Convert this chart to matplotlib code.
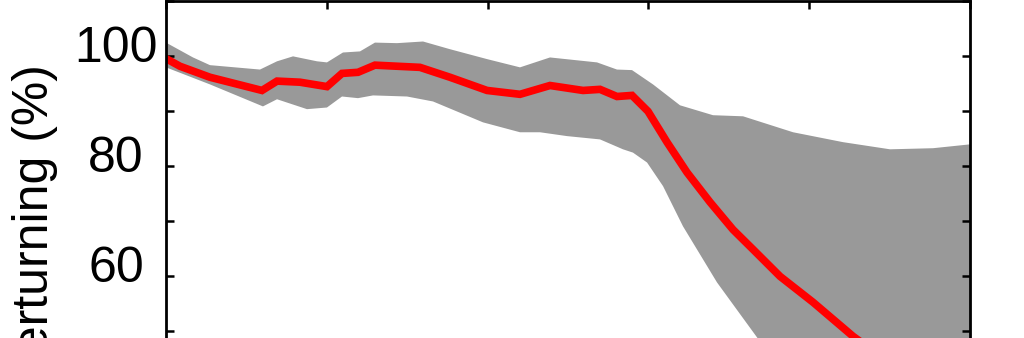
import numpy as np
import matplotlib.pyplot as plt
from matplotlib.transforms import ScaledTranslation

plt.rcParams['font.family'] = ['Liberation Sans', 'DejaVu Sans']

# mean curve (x in % of the record, y in % overturning)
mean_x = [0, 1.74, 5.47, 11.94, 13.81, 16.67, 20.02, 21.89, 23.88, 25.99, 31.59,
          35.32, 39.93, 44.03, 47.76, 51.87, 53.98, 56.09, 57.96, 59.95, 62.31,
          64.80, 67.66, 70.52, 73.01, 76.37, 80.47, 85.45, 90.05, 95.02, 100]
mean_y = [99.6, 98.2, 96.2, 93.8, 95.5, 95.3, 94.5, 96.9, 97.1, 98.4, 98.0,
          96.2, 93.8, 93.1, 94.7, 93.8, 94.0, 92.7, 92.9, 90.0, 84.4,
          78.9, 73.5, 68.5, 64.9, 60.0, 55.3, 49.1, 44.2, 39.1, 34.4]

# upper edge of the spread
upper_x = [0, 3.36, 5.47, 11.69, 13.81, 15.80, 18.78, 20.02, 22.01, 24.13, 25.99,
           28.73, 31.97, 35.32, 39.93, 44.03, 47.76, 53.61, 56.09, 57.96, 60.57,
           63.93, 68.03, 71.77, 77.99, 84.20, 90.05, 95.40, 100]
upper_y = [102.5, 99.8, 98.4, 97.6, 99.1, 100.0, 99.1, 98.9, 100.7, 100.9, 102.5,
           102.4, 102.7, 101.3, 99.5, 98.0, 99.8, 98.9, 97.6, 97.5, 94.9,
           91.1, 89.3, 89.1, 86.2, 84.4, 83.1, 83.3, 84.0]

# lower edge of the spread
lower_x = [0, 5.47, 12.06, 13.81, 17.54, 20.02, 21.89, 23.88, 25.75, 29.98, 33.21,
           39.43, 44.03, 46.52, 49.88, 53.98, 56.84, 58.08, 59.83, 61.82, 64.30,
           68.53, 73.51, 78.86, 85.07, 92.54, 100]
lower_y = [98.0, 94.9, 90.9, 92.2, 90.4, 90.7, 92.7, 92.4, 92.9, 92.7, 91.8,
           88.0, 86.2, 86.2, 85.5, 84.9, 83.1, 82.5, 80.7, 76.4, 69.1,
           58.9, 48.9, 38.5, 28.5, 19.5, 12.2]

y_ticks = [0, 10, 20, 30, 40, 50, 60, 70, 80, 90, 100, 110]
y_labels = ['0', '', '20', '', '40', '', '60', '', '80', '', '100', '']
x_ticks = [0, 20, 40, 60, 80, 100]

fig = plt.figure(figsize=(10.24, 3.38), dpi=100)
ax = fig.add_axes([0.1621, -0.794, 0.7852, 1.790])

poly_x = np.concatenate([upper_x, lower_x[::-1]])
poly_y = np.concatenate([upper_y, lower_y[::-1]])
ax.fill(poly_x, poly_y, color='#999999', lw=0)
ax.plot(mean_x, mean_y, color='#ff0000', lw=5.5, solid_joinstyle='miter')

ax.set_xlim(0, 100)
ax.set_ylim(0, 110)
ax.set_yticks(y_ticks)
ax.set_yticklabels(y_labels)
ax.set_xticks(x_ticks)
ax.set_xticklabels([])
ax.tick_params(direction='in', length=6, width=1.8, top=True, right=True,
               labelsize=36, pad=36)
for s in ax.spines.values():
    s.set_linewidth(2)

# tick labels are centred and sit a little above their ticks
shift = ScaledTranslation(0, 7 / 100, fig.dpi_scale_trans)
for lab in ax.get_yticklabels():
    lab.set_horizontalalignment('center')
    lab.set_verticalalignment('center')
    lab.set_transform(lab.get_transform() + shift)

fig.text(0.034, 1 - 64 / 338, 'Overturning (%)', rotation=90, fontsize=36,
         ha='center', va='top')

fig.savefig('out.png', dpi=100)
